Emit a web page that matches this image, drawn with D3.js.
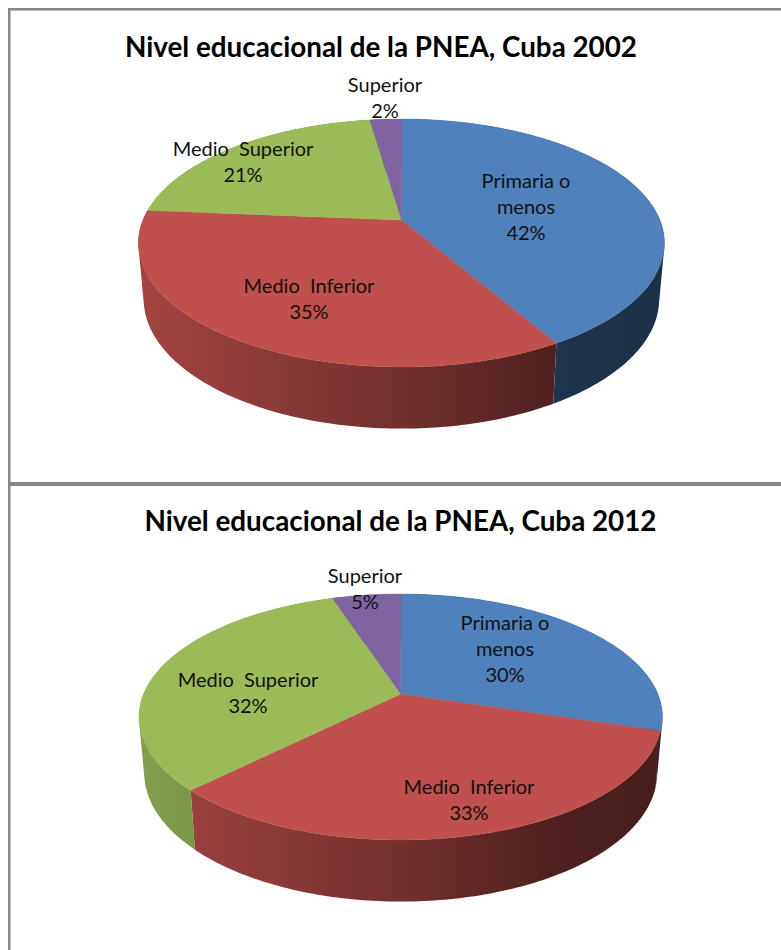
<!DOCTYPE html>
<html><head><meta charset="utf-8">
<script src="https://cdn.jsdelivr.net/npm/d3@7"></script>
<style>html,body{margin:0;padding:0;background:#fff}svg{display:block}</style>
</head><body><svg id="c" width="781" height="950"></svg>
<script>
const categories = ["Primaria o|menos", "Medio  Inferior", "Medio  Superior", "Superior"];
const colors = ["#4f81bd", "#c0504d", "#9bbb59", "#8064a2"];
const values2002 = [41.6, 34.7, 21.4, 2.3];
const values2012 = [29.75, 32.8, 32.4, 5.05];
const title2002 = "Nivel educacional de la PNEA, Cuba 2002";
const title2012 = "Nivel educacional de la PNEA, Cuba 2012";

// layout only
const layouts = [
  {values: values2002, title: title2002, titleX: 381, titleY: 57, cx: 401.5, ax: 401.4, ay: 220, top: 119, bot: 367, rx: 263,
   labels: [[526,188],[309,292.5],[243,155.5],[385,92]]},
  {values: values2012, title: title2012, titleX: 400.5, titleY: 531, cx: 401, ax: 400.7, ay: 694, top: 594, bot: 840, rx: 261.7,
   labels: [[505,629.5],[469,793.5],[248,686.5],[365,583]]}
];
const shade = d3.scaleLinear().domain([140, 400, 550, 660]).range([0.85, 0.60, 0.41, 0.37]).clamp(true);
const svg = d3.select("#c");
const defs = svg.append("defs");
const FONT = "Lato, 'Open Sans', sans-serif";

// frame
svg.append("rect").attr("x",8).attr("y",8).attr("width",773).attr("height",2.5).attr("fill","#868686");
svg.append("rect").attr("x",8).attr("y",8).attr("width",2.5).attr("height",942).attr("fill","#868686");
svg.append("rect").attr("x",8).attr("y",482).attr("width",773).attr("height",4).attr("fill","#868686");

const line = d3.line();
layouts.forEach((L, li) => {
  const up = L.ay - L.top, dn = L.bot - L.ay;
  const k = (dn - up) / (dn + up), B = up * (1 + k), A = L.rx * Math.sqrt(1 - k * k);
  const depth = 55, sy = 1.045, sx = 0.98;
  const proj = a => {
    const u = Math.sin(a), v = -Math.cos(a), d = 1 - k * v;
    return [L.ax + A * u / d, L.ay + B * v / d];
  };
  const low = p => [L.cx + (p[0] - L.cx) * sx, L.ay + depth + (p[1] - L.ay) * sy];
  const arcs = d3.pie().sort(null).value(d => d)(L.values);
  const samples = d => {
    const n = Math.ceil((d.endAngle - d.startAngle) * 60);
    return d3.range(n + 1).map(i => d.startAngle + (d.endAngle - d.startAngle) * i / n);
  };
  const g = svg.append("g");

  // side walls, built from quads so the silhouette follows the extrusion
  arcs.forEach((d, i) => {
    const id = "w" + li + "-" + i, base = d3.rgb(colors[i]);
    const x0 = 130, x1 = 670;
    const grad = defs.append("linearGradient").attr("id", id).attr("gradientUnits","userSpaceOnUse")
      .attr("x1",x0).attr("x2",x1).attr("y1",0).attr("y2",0);
    [140,200,260,320,400,475,550,660].forEach(x => {
      const f = shade(x);
      grad.append("stop").attr("offset",(x-x0)/(x1-x0))
        .attr("stop-color", d3.rgb(base.r*f, base.g*f, base.b*f).formatHex());
    });
    const rim = samples(d).map(proj);
    const quads = d3.pairs(rim).map(([p, q]) => {
      const [a, b, c, e] = [p, q, low(q), low(p)];
      const area = d3.polygonArea([a, b, c, e]);
      return line(area >= 0 ? [a, b, c, e] : [e, c, b, a]) + "Z";
    }).join("");
    g.append("path").attr("d", quads).attr("fill", "url(#" + id + ")");
  });

  // top face
  arcs.forEach((d, i) => {
    const rim = samples(d).map(proj);
    g.append("path").attr("d", line([[L.ax, L.ay]].concat(rim)) + "Z")
      .attr("fill", colors[i]).attr("stroke", colors[i]).attr("stroke-width", 0.4);
  });

  // title
  svg.append("text").attr("x", L.titleX).attr("y", L.titleY).attr("text-anchor","middle")
    .attr("font-family", FONT).attr("font-weight", 700).attr("font-size", 27.8).attr("fill","#000").text(L.title);

  // labels
  arcs.forEach((d, i) => {
    const rows = categories[i].split("|").concat(d3.format(".0f")(L.values[i]) + "%");
    const t = svg.append("text").attr("text-anchor","middle").attr("font-family", FONT)
      .attr("font-size", 20).attr("fill","#111");
    rows.forEach((r, j) => t.append("tspan").attr("x", L.labels[i][0]).attr("y", L.labels[i][1] + j * 26)
      .style("white-space","pre").text(r));
  });
});
</script></body></html>
